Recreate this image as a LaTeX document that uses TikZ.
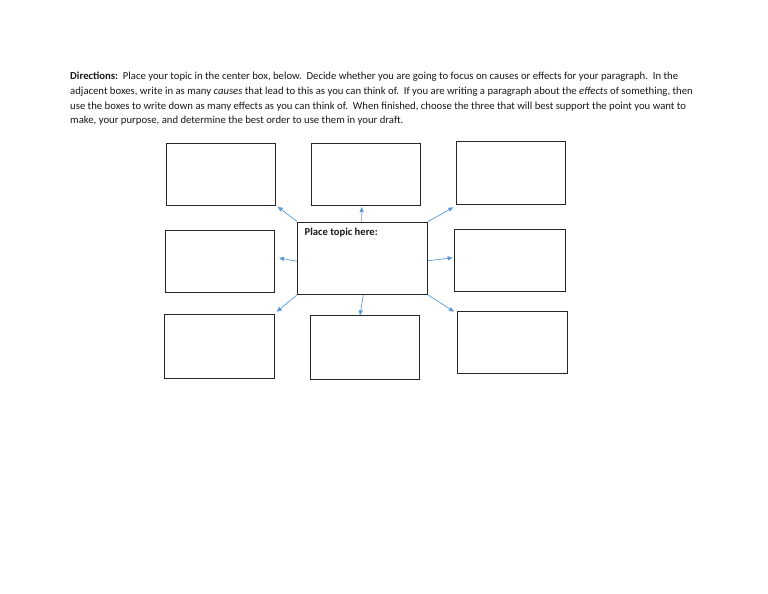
\documentclass[tikz,border=0pt]{standalone}
\usepackage{fontspec}
\setmainfont{Carlito}
\usetikzlibrary{arrows.meta}
\definecolor{arrowblue}{HTML}{5B9BD5}
\definecolor{boxline}{HTML}{262626}
\tikzset{
  box/.style={draw=boxline, line width=0.9pt, rectangle, inner sep=0pt},
  arr/.style={draw=arrowblue, line width=0.7pt, -{Triangle[length=5pt,width=4.2pt]}},
  line/.style={anchor=base west, inner sep=0pt, font=\fontsize{10.7}{14.5}\selectfont, text=black!90}
}
\begin{document}
\begin{tikzpicture}[x=1pt,y=-1pt]
\useasboundingbox[fill=white] (0,0) rectangle (768,594);
% directions text
\node[line] (l1) at (70,80) {\textbf{Directions:}\ \ Place your topic in the center box, below.\ \ Decide whether you are going to focus on causes or effects for your paragraph.\ \ In the};
\node[line] (l2) at (70,94.5) {adjacent boxes, write in as many \textit{causes} that lead to this as you can think of.\ \ If you are writing a paragraph about the \textit{effects} of something, then};
\node[line] (l3) at (70,109) {use the boxes to write down as many effects as you can think of.\ \ When finished, choose the three that will best support the point you want to};
\node[line] (l4) at (70,123.5) {make, your purpose, and determine the best order to use them in your draft.};
% boxes
\node[box, minimum width=109.5pt, minimum height=62.5pt] (TL) at (220.75,174.25) {};
\node[box, minimum width=109pt, minimum height=62.5pt] (TM) at (365.5,174.25) {};
\node[box, minimum width=109pt, minimum height=63pt] (TR) at (510.5,172.5) {};
\node[box, minimum width=130.2pt, minimum height=72.5pt] (C) at (362.6,258.25) {};
\node[box, minimum width=108.8pt, minimum height=62.2pt] (ML) at (220.1,261.4) {};
\node[box, minimum width=111pt, minimum height=62.7pt] (MR) at (509.8,260.35) {};
\node[box, minimum width=110.7pt, minimum height=63.3pt] (BL) at (219.35,346.35) {};
\node[box, minimum width=109.3pt, minimum height=63.3pt] (BM) at (364.65,347.35) {};
\node[box, minimum width=110pt, minimum height=62.7pt] (BR) at (512.3,342.35) {};
\node[anchor=base west, inner sep=0pt, font=\fontsize{10.6}{12}\selectfont\bfseries, text=black!90] (ptl) at (304.5,235) {Place topic here:};
% arrow tips
\coordinate (t1) at (277.7,206.7);
\coordinate (t2) at (361.7,207);
\coordinate (t3) at (453.3,207.3);
\coordinate (t4) at (279,258);
\coordinate (t5) at (452.7,257.7);
\coordinate (t6) at (276.7,311.7);
\coordinate (t7) at (360,315.3);
\coordinate (t8) at (454,311.7);
\draw[arr] (C.north west) -- (t1);
\draw[arr] ([xshift=-1pt]C.north) -- (t2);
\draw[arr] (C.north east) -- (t3);
\draw[arr] ([yshift=-3pt]C.west) -- (t4);
\draw[arr] ([yshift=-2.5pt]C.east) -- (t5);
\draw[arr] (C.south west) -- (t6);
\draw[arr] ([xshift=0.7pt]C.south) -- (t7);
\draw[arr] (C.south east) -- (t8);
\end{tikzpicture}
\end{document}
